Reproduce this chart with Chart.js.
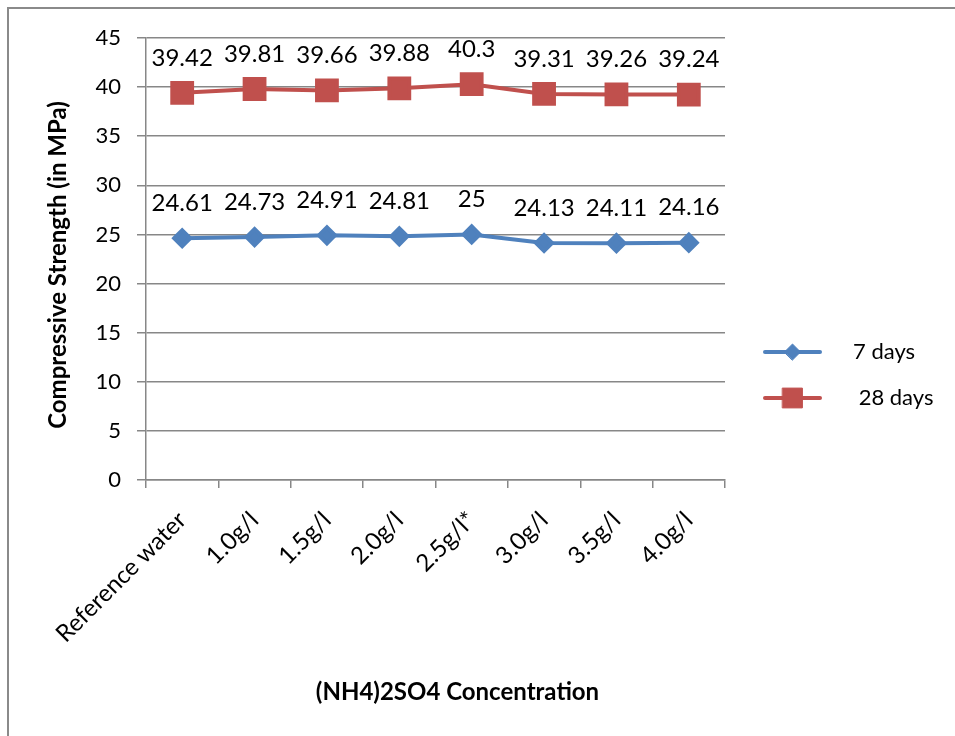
<!DOCTYPE html>
<html>
<head>
<meta charset="utf-8">
<script src="https://cdn.jsdelivr.net/npm/chart.js@4/dist/chart.umd.min.js"></script>
<style>
  html, body { margin: 0; padding: 0; background: #ffffff; }
  #wrap { width: 955px; height: 736px; }
</style>
</head>
<body>
<div id="wrap"><canvas id="c" width="955" height="736"></canvas></div>
<script>
// Compressive strength by (NH4)2SO4 concentration
const categories = ['Reference water', '1.0g/l', '1.5g/l', '2.0g/l', '2.5g/l*', '3.0g/l', '3.5g/l', '4.0g/l'];
const strength7Days = [24.61, 24.73, 24.91, 24.81, 25, 24.13, 24.11, 24.16];
const strength28Days = [39.42, 39.81, 39.66, 39.88, 40.3, 39.31, 39.26, 39.24];
const seriesLabels = ['7 days', ' 28 days'];
const xAxisTitle = '(NH4)2SO4 Concentration';
const yAxisTitle = 'Compressive Strength (in MPa)';
const yAxisMin = 0, yAxisMax = 45, yAxisStep = 5;

const FONT = 'Lato, "Open Sans", sans-serif';
const GRID = '#878787';

// Frame lines along the top and left edges of the figure
const framePlugin = {
  id: 'frame',
  beforeDraw(chart) {
    const ctx = chart.ctx;
    ctx.save();
    ctx.strokeStyle = '#8a8a8a';
    ctx.lineWidth = 2;
    ctx.beginPath();
    ctx.moveTo(8, chart.height);
    ctx.lineTo(8, 8);
    ctx.lineTo(chart.width, 8);
    ctx.stroke();
    ctx.restore();
  }
};

// Axis titles, placed relative to the plot area
const axisTitlePlugin = {
  id: 'axisTitles',
  afterDraw(chart) {
    const ctx = chart.ctx;
    const a = chart.chartArea;
    ctx.save();
    ctx.fillStyle = '#000000';
    ctx.font = 'bold 24px ' + FONT;
    ctx.textAlign = 'center';
    ctx.textBaseline = 'middle';
    ctx.fillText(xAxisTitle, (a.left + a.right) / 2 + 22, 692);
    ctx.translate(58, (a.top + a.bottom) / 2 + 6);
    ctx.rotate(-Math.PI / 2);
    ctx.fillText(yAxisTitle, 0, 0);
    ctx.restore();
  }
};

// Value labels above every marker
const valueLabelPlugin = {
  id: 'valueLabels',
  afterDatasetsDraw(chart) {
    const ctx = chart.ctx;
    ctx.save();
    ctx.font = '24px ' + FONT;
    ctx.fillStyle = '#000000';
    ctx.textAlign = 'center';
    ctx.textBaseline = 'middle';
    chart.data.datasets.forEach((ds, i) => {
      const meta = chart.getDatasetMeta(i);
      meta.data.forEach((pt, j) => {
        ctx.fillText(String(ds.data[j]), pt.x, pt.y - 35);
      });
    });
    ctx.restore();
  }
};

// Legend on the right: line sample with marker, then the series name
const sideLegendPlugin = {
  id: 'sideLegend',
  afterDraw(chart) {
    const ctx = chart.ctx;
    const area = chart.chartArea;
    const x0 = area.right + 40, x1 = area.right + 95, tx = area.right + 128;
    const rows = [352, 398];
    ctx.save();
    chart.data.datasets.forEach((ds, i) => {
      const y = rows[i];
      ctx.strokeStyle = ds.borderColor;
      ctx.lineWidth = ds.borderWidth;
      ctx.lineCap = 'round';
      ctx.beginPath();
      ctx.moveTo(x0, y);
      ctx.lineTo(x1, y);
      ctx.stroke();
      ctx.fillStyle = ds.pointBackgroundColor;
      ctx.strokeStyle = ds.pointBorderColor;
      ctx.lineWidth = 1;
      Chart.helpers.drawPoint(ctx, { pointStyle: ds.pointStyle, radius: ds.pointRadius, rotation: 0, borderWidth: 1 }, (x0 + x1) / 2, y);
      ctx.fillStyle = '#000000';
      ctx.font = '22px ' + FONT;
      ctx.textAlign = 'left';
      ctx.textBaseline = 'middle';
      ctx.fillText(ds.label, tx, y);
    });
    ctx.restore();
  }
};

new Chart(document.getElementById('c'), {
  type: 'line',
  data: {
    labels: categories,
    datasets: [
      {
        label: seriesLabels[0],
        data: strength7Days,
        borderColor: '#4F81BD',
        backgroundColor: '#4F81BD',
        borderWidth: 4,
        pointStyle: 'rectRot',
        pointRadius: 8,
        pointBackgroundColor: '#4F81BD',
        pointBorderColor: '#4F81BD',
        tension: 0
      },
      {
        label: seriesLabels[1],
        data: strength28Days,
        borderColor: '#C0504D',
        backgroundColor: '#C0504D',
        borderWidth: 4,
        pointStyle: 'rect',
        pointRadius: 14,
        pointBackgroundColor: '#C0504D',
        pointBorderColor: '#C0504D',
        tension: 0
      }
    ]
  },
  options: {
    responsive: false,
    animation: false,
    devicePixelRatio: 1,
    layout: { padding: { left: 19, top: 38, right: 230, bottom: 30 } },
    plugins: {
      legend: { display: false },
      tooltip: { enabled: false }
    },
    scales: {
      x: {
        type: 'category',
        offset: true,
        grid: { offset: true, drawOnChartArea: false, drawTicks: true, tickLength: 8, color: GRID, lineWidth: 1.5 },
        border: { color: GRID, width: 1.5 },
        ticks: {
          color: '#000000',
          font: { family: FONT, size: 24 },
          minRotation: 45,
          maxRotation: 45,
          autoSkip: false,
          padding: 18
        },
        afterFit(scale) { scale.height = 226; }
      },
      y: {
        min: yAxisMin,
        max: yAxisMax,
        grid: { color: GRID, lineWidth: 1.5, tickLength: 9 },
        border: { color: GRID, width: 1.5 },
        ticks: {
          stepSize: yAxisStep,
          color: '#000000',
          font: { family: FONT, size: 22 },
          padding: 16
        },
        afterFit(scale) { scale.width = 127; }
      }
    }
  },
  plugins: [framePlugin, axisTitlePlugin, valueLabelPlugin, sideLegendPlugin]
});
</script>
</body>
</html>
